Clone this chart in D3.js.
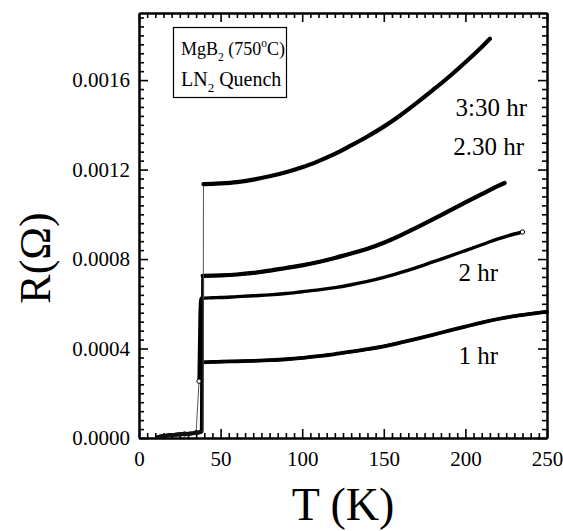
<!DOCTYPE html>
<html>
<head>
<meta charset="utf-8">
<script src="https://cdn.jsdelivr.net/npm/d3@7"></script>
<style>
  body { margin: 0; background: #fff; }
  text { font-family: "Liberation Serif", "Times New Roman", serif; fill: #000; }
</style>
</head>
<body>
<div id="chart"></div>
<script>
// ---- data (T in K, R in ohm) ----
const t1hr = [11, 18, 25, 32, 37, 38.2, 38.5, 45, 50, 60, 70, 80, 90, 100, 110, 120, 130, 140, 150, 160, 170, 180, 190, 200, 210, 220, 230, 240, 250];
const r1hr = [0.000004, 0.000012, 0.000016, 0.000019, 0.000024, 0.00003, 0.000338, 0.00034, 0.000341, 0.000343, 0.000345, 0.000348, 0.000352, 0.000358, 0.000366, 0.000375, 0.000386, 0.000397, 0.00041, 0.000426, 0.000443, 0.000461, 0.00048, 0.000498, 0.000516, 0.000532, 0.000545, 0.000555, 0.000565];

const t2hr = [12, 20, 28, 35, 36.8, 37.4, 38, 45, 50, 60, 70, 80, 90, 100, 110, 120, 130, 140, 150, 160, 170, 180, 190, 200, 210, 220, 230, 235];
const r2hr = [0.000005, 0.000013, 0.000018, 0.000024, 0.000254, 0.00054, 0.000625, 0.000627, 0.000628, 0.000632, 0.000636, 0.00064, 0.000646, 0.000654, 0.000662, 0.000672, 0.000685, 0.0007, 0.000718, 0.000739, 0.000762, 0.000787, 0.000812, 0.000838, 0.000864, 0.00089, 0.000912, 0.000921];

const t230 = [12, 20, 28, 35, 37.6, 38.6, 39, 45, 50, 60, 70, 80, 90, 100, 110, 120, 130, 140, 150, 160, 170, 180, 190, 200, 210, 220, 224];
const r230 = [0.000006, 0.000014, 0.000019, 0.000023, 0.000028, 0.00003, 0.000725, 0.000726, 0.000727, 0.000731, 0.000738, 0.000748, 0.00076, 0.000772, 0.000787, 0.000805, 0.000825, 0.000846, 0.000873, 0.000905, 0.00094, 0.000977, 0.001015, 0.001053, 0.00109, 0.001127, 0.00114];

const t330 = [12, 18, 25, 32, 38, 39.3, 39.5, 45, 50, 60, 70, 80, 90, 100, 110, 120, 130, 140, 150, 160, 170, 180, 190, 200, 210, 215];
const r330 = [0.000006, 0.000012, 0.000016, 0.00002, 0.000026, 0.00003, 0.001135, 0.001136, 0.001138, 0.001144, 0.001155, 0.00117, 0.001188, 0.00121, 0.001238, 0.00127, 0.001308, 0.001348, 0.001392, 0.001442, 0.001497, 0.001555, 0.001615, 0.00168, 0.001748, 0.001785];

const seriesLabels = ["1 hr", "2 hr", "2.30 hr", "3:30 hr"];
const xTicks = [0, 50, 100, 150, 200, 250];
const yTicks = [0, 0.0004, 0.0008, 0.0012, 0.0016];

const W = 563, H = 531;
const margin = { top: 13, right: 16, bottom: 93, left: 139 };
const serif = '"Liberation Serif", "Times New Roman", serif';

const svg = d3.select("#chart").append("svg")
    .attr("width", W)
    .attr("height", H);

const x = d3.scaleLinear().domain([0, 250]).range([margin.left, W - margin.right]);
const y = d3.scaleLinear().domain([0, 0.0019]).range([H - margin.bottom, margin.top]);

const xMinor = d3.range(0, 251, 5).filter(d => d % 50 !== 0);
const yMinor = d3.range(1, 48).map(i => i * 0.00004).filter((d, i) => (i + 1) % 10 !== 0);

// ---- axes (ticks pointing inward on all four sides) ----
function styleAxis(g) {
    g.attr("font-family", serif);
    g.selectAll(".domain").attr("stroke", "#000").attr("stroke-width", 2);
    g.selectAll(".tick line").attr("stroke", "#000").attr("stroke-width", 1.6);
    g.selectAll(".tick text").style("font-size", "21px").style("font-family", serif).attr("fill", "#000");
}

svg.append("g")
    .attr("transform", `translate(0,${y(0)})`)
    .call(d3.axisBottom(x).tickValues(xTicks).tickFormat(d3.format("d")).tickSize(-9).tickSizeOuter(0).tickPadding(13))
    .call(styleAxis);
svg.append("g")
    .attr("transform", `translate(0,${y(0)})`)
    .call(d3.axisBottom(x).tickValues(xMinor).tickFormat("").tickSize(-5).tickSizeOuter(0))
    .call(styleAxis);
svg.append("g")
    .attr("transform", `translate(0,${margin.top})`)
    .call(d3.axisTop(x).tickValues(xTicks).tickFormat("").tickSize(-9).tickSizeOuter(0))
    .call(styleAxis);
svg.append("g")
    .attr("transform", `translate(0,${margin.top})`)
    .call(d3.axisTop(x).tickValues(xMinor).tickFormat("").tickSize(-5).tickSizeOuter(0))
    .call(styleAxis);

svg.append("g")
    .attr("transform", `translate(${x(0)},0)`)
    .call(d3.axisLeft(y).tickValues(yTicks).tickFormat(d3.format(".4f")).tickSize(-9).tickSizeOuter(0).tickPadding(9))
    .call(styleAxis);
svg.append("g")
    .attr("transform", `translate(${x(0)},0)`)
    .call(d3.axisLeft(y).tickValues(yMinor).tickFormat("").tickSize(-5).tickSizeOuter(0))
    .call(styleAxis);
svg.append("g")
    .attr("transform", `translate(${x(250)},0)`)
    .call(d3.axisRight(y).tickValues(yTicks).tickFormat("").tickSize(-9).tickSizeOuter(0))
    .call(styleAxis);
svg.append("g")
    .attr("transform", `translate(${x(250)},0)`)
    .call(d3.axisRight(y).tickValues(yMinor).tickFormat("").tickSize(-5).tickSizeOuter(0))
    .call(styleAxis);

// ---- axis titles ----
svg.append("text")
    .attr("x", (x(0) + x(250)) / 2)
    .attr("y", 520)
    .attr("text-anchor", "middle")
    .style("font-size", "46px")
    .text("T (K)");

svg.append("text")
    .attr("transform", "translate(50,258) rotate(-90)")
    .attr("text-anchor", "middle")
    .style("font-size", "44px")
    .text("R(Ω)");

// ---- curves ----
const line = d3.line().x(d => x(d[0])).y(d => y(d[1]));
const zipped = (ts, rs) => ts.map((t, i) => [t, rs[i]]);

const curves = [
    { name: seriesLabels[0], pts: zipped(t1hr, r1hr), thin: false, open: false, w: 3.8 },
    { name: seriesLabels[1], pts: zipped(t2hr, r2hr), thin: true, open: true, w: 3.4 },
    { name: seriesLabels[2], pts: zipped(t230, r230), thin: false, open: false, w: 4.2 },
    { name: seriesLabels[3], pts: zipped(t330, r330), thin: true, open: false, w: 4.2 }
];

const plot = svg.append("g");

curves.forEach(c => {
    // full trace including the superconducting jump
    plot.append("path")
        .datum(c.pts)
        .attr("fill", "none")
        .attr("stroke", c.thin ? "#555" : "#000")
        .attr("stroke-width", c.thin ? 1 : 3)
        .attr("d", line.curve(d3.curveLinear));

    // dense marker band along normal state and low-T part
    const jump = c.pts.findIndex((d, i) => i > 0 && d[1] - c.pts[i - 1][1] > 0.0001);
    const normal = c.pts.slice(jump);
    const low = c.pts.slice(0, jump - 1);
    plot.append("path")
        .datum(normal)
        .attr("fill", "none")
        .attr("stroke", "#000")
        .attr("stroke-width", c.w)
        .attr("stroke-linecap", "round")
        .attr("d", line.curve(d3.curveMonotoneX));
    plot.append("path")
        .datum(low)
        .attr("fill", "none")
        .attr("stroke", "#111")
        .attr("stroke-width", 3.5)
        .attr("stroke-linecap", "round")
        .attr("d", line.curve(d3.curveMonotoneX));

    if (c.open) {
        // open circle markers on transition and at the last point
        const marks = c.pts.slice(jump - 2, jump + 1).concat([c.pts[c.pts.length - 1]]);
        plot.selectAll(null)
            .data(marks)
            .join("circle")
            .attr("cx", d => x(d[0]))
            .attr("cy", d => y(d[1]))
            .attr("r", 2.2)
            .attr("fill", "#fff")
            .attr("stroke", "#000")
            .attr("stroke-width", 1);
    }
});

// ---- curve labels ----
const labelPos = [
    { text: seriesLabels[3], x: 527, y: 116 },
    { text: seriesLabels[2], x: 524, y: 155 },
    { text: seriesLabels[1], x: 498, y: 281 },
    { text: seriesLabels[0], x: 498, y: 364 }
];
svg.selectAll(".curve-label")
    .data(labelPos)
    .join("text")
    .attr("class", "curve-label")
    .attr("x", d => d.x)
    .attr("y", d => d.y)
    .attr("text-anchor", "end")
    .style("font-size", "25px")
    .text(d => d.text);

// ---- sample legend box ----
const box = svg.append("g");
box.append("rect")
    .attr("x", 173.5).attr("y", 27.5)
    .attr("width", 113).attr("height", 70)
    .attr("fill", "#fff")
    .attr("stroke", "#000")
    .attr("stroke-width", 1.2);

const l1 = box.append("text").attr("x", 181).attr("y", 55).style("font-size", "18px");
l1.append("tspan").text("MgB");
l1.append("tspan").attr("dy", 6).style("font-size", "11.5px").text("2");
l1.append("tspan").attr("dy", -6).text(" (750");
l1.append("tspan").attr("dy", -8).style("font-size", "11.5px").text("o");
l1.append("tspan").attr("dy", 8).text("C)");

const l2 = box.append("text").attr("x", 181).attr("y", 86).style("font-size", "20px");
l2.append("tspan").text("LN");
l2.append("tspan").attr("dy", 6).style("font-size", "13px").text("2");
l2.append("tspan").attr("dy", -6).text(" Quench");
</script>
</body>
</html>
